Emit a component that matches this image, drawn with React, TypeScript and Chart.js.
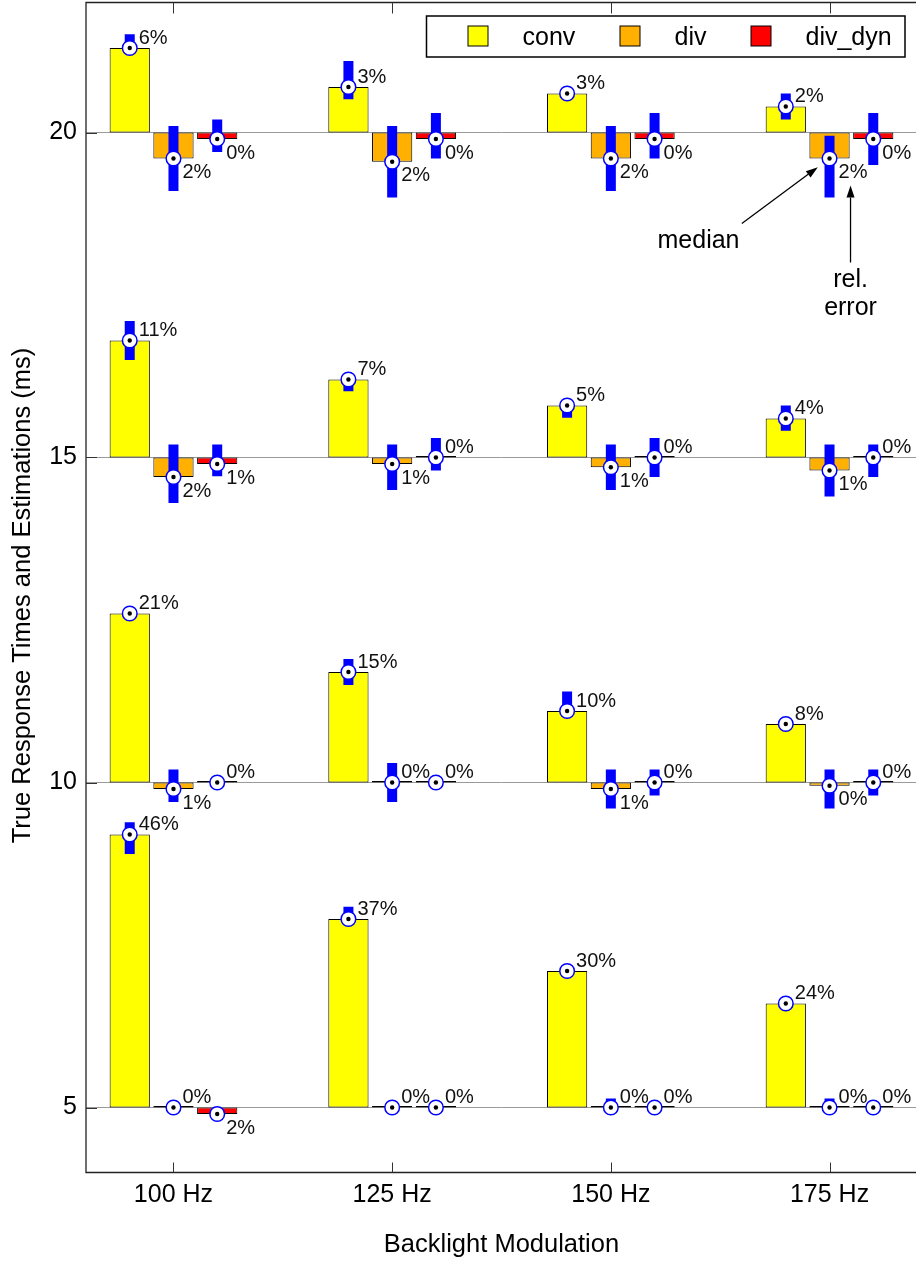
import React, { useEffect, useRef } from 'react';
import { Chart, registerables } from 'chart.js';

Chart.register(...registerables);

const FONT = "'Liberation Sans', Arial, Helvetica, sans-serif";

const categories = ['100 Hz', '125 Hz', '150 Hz', '175 Hz'];
const trueLevels = [20, 15, 10, 5];
const yTickValues = [5, 10, 15, 20];
const seriesNames = ['conv', 'div', 'div_dyn'];
const seriesColors = ['#ffff00', '#ffb000', '#ff0000'];
const rangeColor = '#0000ff';
const yTitle = 'True Response Times and Estimations (ms)';
const xTitle = 'Backlight Modulation';

// estimates (bar end = median) per true level (rows) and modulation (cols)
const convEst = [
  [21.3, 20.7, 20.6, 20.4],
  [16.8, 16.2, 15.8, 15.6],
  [12.6, 11.7, 11.1, 10.9],
  [9.2, 7.9, 7.1, 6.6],
];
const divEst = [
  [19.6, 19.55, 19.6, 19.6],
  [14.7, 14.9, 14.85, 14.8],
  [9.9, 10.0, 9.9, 9.95],
  [5.0, 5.0, 5.0, 5.0],
];
const divDynEst = [
  [19.9, 19.9, 19.9, 19.9],
  [14.9, 15.0, 15.0, 15.0],
  [10.0, 10.0, 10.0, 10.0],
  [4.9, 5.0, 5.0, 5.0],
];

// spread of the estimations (blue bars)
const convRange = [
  [[21.25, 21.51], [20.51, 21.1], null, [20.2, 20.6]],
  [[16.5, 17.1], [16.02, 16.25], [15.61, 15.85], [15.41, 15.8]],
  [null, [11.5, 11.9], [11.05, 11.4], null],
  [[8.9, 9.39], [7.85, 8.09], null, null],
];
const divRange = [
  [[19.1, 20.1], [19.0, 20.1], [19.1, 20.1], [19.0, 19.95]],
  [[14.3, 15.2], [14.5, 15.2], [14.5, 15.2], [14.4, 15.2]],
  [[9.7, 10.2], [9.7, 10.3], [9.6, 10.2], [9.6, 10.2]],
  [null, null, [4.95, 5.14], [4.95, 5.14]],
];
const divDynRange = [
  [[19.7, 20.2], [19.6, 20.3], [19.6, 20.3], [19.5, 20.3]],
  [[14.71, 15.2], [14.8, 15.3], [14.7, 15.3], [14.7, 15.2]],
  [null, null, [9.8, 10.2], [9.8, 10.2]],
  [null, null, null, null],
];

// relative errors (%)
const convRelErr = [[6, 3, 3, 2], [11, 7, 5, 4], [21, 15, 10, 8], [46, 37, 30, 24]];
const divRelErr = [[2, 2, 2, 2], [2, 1, 1, 1], [1, 0, 1, 0], [0, 0, 0, 0]];
const divDynRelErr = [[0, 0, 0, 0], [1, 0, 0, 0], [0, 0, 0, 0], [2, 0, 0, 0]];

const estimates = [convEst, divEst, divDynEst];
const ranges = [convRange, divRange, divDynRange];
const relErrors = [convRelErr, divRelErr, divDynRelErr];

const nSeries = seriesNames.length;
const nLevels = trueLevels.length;
const valueDatasetIndex = (s: number, l: number) => nSeries * nLevels + s * nLevels + l;

function buildDatasets() {
  const ds: any[] = [];
  // spread bars first so they are drawn on top of value bars
  seriesNames.forEach((name, s) => {
    trueLevels.forEach((lvl, l) => {
      ds.push({
        label: `${name} range ${lvl}`,
        stack: name,
        data: categories
          .map((_, c) => (ranges[s][l][c] ? { x: c, y: ranges[s][l][c] } : null))
          .filter((p) => p !== null),
        backgroundColor: rangeColor,
        borderWidth: 0,
        maxBarThickness: 10,
        inflateAmount: 0,
      });
    });
  });
  seriesNames.forEach((name, s) => {
    trueLevels.forEach((lvl, l) => {
      ds.push({
        label: name,
        stack: name,
        data: categories.map((_, c) => ({ x: c, y: [lvl, estimates[s][l][c]] })),
        backgroundColor: seriesColors[s],
        borderColor: '#000',
        borderWidth: 1,
        borderSkipped: false,
        minBarLength: 1.5,
        inflateAmount: 0,
      });
    });
  });
  return ds;
}

const overlayPlugin = {
  id: 'overlay',
  afterDatasetsDraw(chart: any) {
    const { ctx, scales } = chart;
    const y = scales.y;
    ctx.save();
    // relative-error labels
    ctx.font = `20px ${FONT}`;
    ctx.fillStyle = '#111';
    ctx.textAlign = 'left';
    ctx.textBaseline = 'middle';
    seriesNames.forEach((_, s) => {
      trueLevels.forEach((lvl, l) => {
        const meta = chart.getDatasetMeta(valueDatasetIndex(s, l));
        categories.forEach((__, c) => {
          const el = meta.data[c];
          const v = estimates[s][l][c];
          const py = y.getPixelForValue(v);
          const above = v >= lvl;
          ctx.fillText(`${relErrors[s][l][c]}%`, el.x + 9, py + (above ? -10 : 14));
        });
      });
    });
    // median markers
    seriesNames.forEach((_, s) => {
      trueLevels.forEach((lvl, l) => {
        const meta = chart.getDatasetMeta(valueDatasetIndex(s, l));
        categories.forEach((__, c) => {
          const el = meta.data[c];
          const py = y.getPixelForValue(estimates[s][l][c]);
          ctx.beginPath();
          ctx.arc(el.x, py, 7.3, 0, Math.PI * 2);
          ctx.fillStyle = '#fff';
          ctx.fill();
          ctx.lineWidth = 1.5;
          ctx.strokeStyle = '#0000ff';
          ctx.stroke();
          ctx.beginPath();
          ctx.arc(el.x, py, 2.2, 0, Math.PI * 2);
          ctx.fillStyle = '#000';
          ctx.fill();
        });
      });
    });
    ctx.restore();
  },
  afterDraw(chart: any) {
    const { ctx, chartArea: a, scales } = chart;
    const x = scales.x;
    const y = scales.y;
    ctx.save();
    // frame
    ctx.strokeStyle = '#222';
    ctx.lineWidth = 1.3;
    ctx.beginPath();
    ctx.moveTo(a.right, a.top);
    ctx.lineTo(a.left, a.top);
    ctx.lineTo(a.left, a.bottom);
    ctx.lineTo(a.right, a.bottom);
    ctx.lineTo(a.right, a.top);
    ctx.stroke();
    // inward ticks
    ctx.lineWidth = 1;
    ctx.strokeStyle = '#333';
    ctx.beginPath();
    x.ticks.forEach((t: any, i: number) => {
      const px = Math.round(x.getPixelForTick(i)) + 0.5;
      ctx.moveTo(px, a.bottom);
      ctx.lineTo(px, a.bottom - 10);
      ctx.moveTo(px, a.top);
      ctx.lineTo(px, a.top + 11);
    });
    y.ticks.forEach((t: any, i: number) => {
      const py = Math.round(y.getPixelForTick(i)) + 0.5;
      ctx.moveTo(a.left, py);
      ctx.lineTo(a.left + 11, py);
    });
    ctx.stroke();

    // y axis title
    ctx.save();
    ctx.translate(23, (a.top + a.bottom) / 2 + 8);
    ctx.rotate(-Math.PI / 2);
    ctx.font = `25.5px ${FONT}`;
    ctx.fillStyle = '#000';
    ctx.textAlign = 'center';
    ctx.textBaseline = 'middle';
    ctx.fillText(yTitle, 0, 0);
    ctx.restore();

    // legend
    const lx = a.right - 490.5;
    const ly = a.top + 13.5;
    ctx.fillStyle = '#fff';
    ctx.fillRect(lx, ly, 478.5, 41);
    ctx.lineWidth = 1.5;
    ctx.strokeStyle = '#000';
    ctx.strokeRect(lx, ly, 478.5, 41);
    const boxX = [41.5, 193.5, 324.5];
    const textX = [96, 248, 379];
    ctx.font = `25px ${FONT}`;
    ctx.textAlign = 'left';
    ctx.textBaseline = 'alphabetic';
    seriesNames.forEach((name, s) => {
      ctx.fillStyle = seriesColors[s];
      ctx.fillRect(lx + boxX[s], ly + 10, 20, 20);
      ctx.lineWidth = 1;
      ctx.strokeStyle = '#000';
      ctx.strokeRect(lx + boxX[s], ly + 10, 20, 20);
      ctx.fillStyle = '#000';
      ctx.fillText(name, lx + textX[s], ly + 29);
    });

    // annotations anchored on the div median at 175 Hz / 20 ms
    const el = chart.getDatasetMeta(valueDatasetIndex(1, 0)).data[3];
    const mx = el.x;
    const my = y.getPixelForValue(divEst[0][3]);
    const arrow = (x0: number, y0: number, x1: number, y1: number) => {
      const ang = Math.atan2(y1 - y0, x1 - x0);
      const len = 12;
      const hw = 4;
      const bx = x1 - len * Math.cos(ang);
      const by = y1 - len * Math.sin(ang);
      ctx.beginPath();
      ctx.moveTo(x0, y0);
      ctx.lineTo(bx, by);
      ctx.lineWidth = 1.3;
      ctx.strokeStyle = '#000';
      ctx.stroke();
      ctx.beginPath();
      ctx.moveTo(x1, y1);
      ctx.lineTo(bx + hw * Math.sin(ang), by - hw * Math.cos(ang));
      ctx.lineTo(bx - hw * Math.sin(ang), by + hw * Math.cos(ang));
      ctx.closePath();
      ctx.fillStyle = '#000';
      ctx.fill();
    };
    arrow(mx - 87.7, my + 65, mx - 11.7, my + 8.7);
    arrow(mx + 21, my + 104, mx + 21, my + 27);
    ctx.fillStyle = '#000';
    ctx.font = `25px ${FONT}`;
    ctx.textAlign = 'center';
    ctx.textBaseline = 'alphabetic';
    ctx.fillText('median', mx - 131, my + 89);
    ctx.fillText('rel.', mx + 21, my + 128);
    ctx.fillText('error', mx + 21, my + 156);
    ctx.restore();
  },
};

export default function App() {
  const ref = useRef<HTMLCanvasElement>(null);
  useEffect(() => {
    if (!ref.current) return;
    const tickFont = { family: FONT, size: 25 };
    const chart = new Chart(ref.current, {
      type: 'bar',
      data: { datasets: buildDatasets() },
      options: {
        responsive: false,
        animation: false,
        devicePixelRatio: 1,
        layout: { padding: { top: 2.5, left: 0, right: 3, bottom: 0 } },
        datasets: { bar: { categoryPercentage: 0.6, barPercentage: 0.92 } },
        plugins: { legend: { display: false }, tooltip: { enabled: false } },
        scales: {
          x: {
            type: 'linear',
            min: -0.4,
            max: 3.4,
            offset: false,
            stacked: true,
            afterBuildTicks: (s: any) => {
              s.ticks = categories.map((_, i) => ({ value: i }));
            },
            afterFit: (s: any) => {
              s.height = 90.5;
              s.paddingLeft = 0;
              s.paddingRight = 0;
            },
            grid: { display: false, drawTicks: false, offset: false },
            border: { display: false },
            ticks: {
              font: tickFont,
              color: '#000',
              padding: 8,
              maxRotation: 0,
              autoSkip: false,
              callback: (v: any) => categories[v as number],
            },
            title: {
              display: true,
              text: xTitle,
              font: { family: FONT, size: 25.5 },
              color: '#000',
              padding: { top: 0, bottom: 3 },
            },
          },
          y: {
            type: 'linear',
            min: 4,
            max: 22,
            stacked: false,
            afterBuildTicks: (s: any) => {
              s.ticks = yTickValues.map((v) => ({ value: v }));
            },
            afterFit: (s: any) => {
              s.width = 86;
              s.paddingTop = 0;
              s.paddingBottom = 0;
            },
            grid: { color: '#9a9a9a', lineWidth: 1, drawTicks: false },
            border: { display: false },
            ticks: { font: tickFont, color: '#000', padding: 9 },
            title: { display: false },
          },
        },
      } as any,
      plugins: [overlayPlugin],
    });
    return () => chart.destroy();
  }, []);
  return (
    <div
      style={{
        position: 'fixed',
        left: 0,
        top: 0,
        width: 916,
        height: 1263,
        overflow: 'hidden',
        background: '#fff',
      }}
    >
      <canvas ref={ref} width={920} height={1263} style={{ display: 'block', width: 920, height: 1263 }} />
    </div>
  );
}
